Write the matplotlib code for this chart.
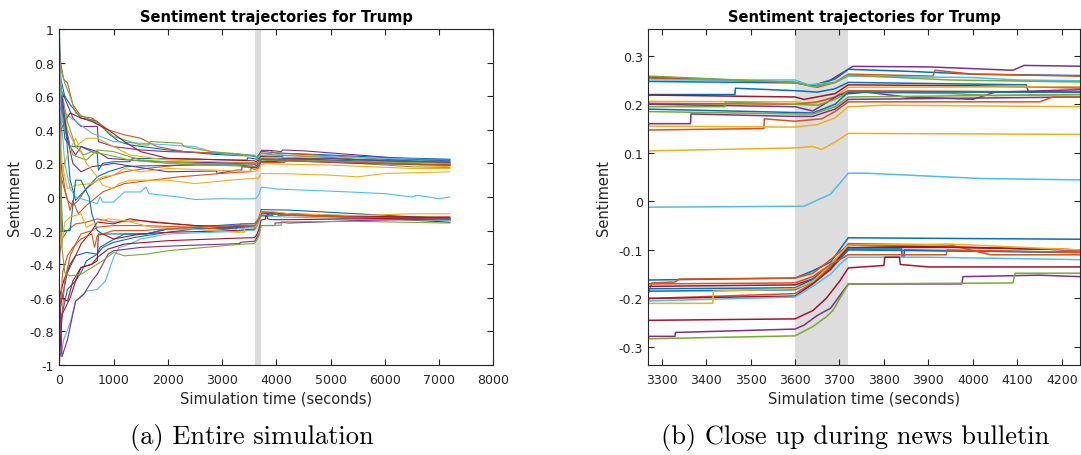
import matplotlib
matplotlib.use("Agg")
import matplotlib.pyplot as plt

plt.rcParams['axes.unicode_minus'] = False
plt.rcParams['font.family'] = ['DejaVu Sans']

# MATLAB default colour order
BLUE, ORANGE, YELLOW, PURPLE = '#0072BD', '#D95319', '#EDB120', '#7E2F8E'
GREEN, LBLUE, DRED = '#77AC30', '#4DBEEE', '#A2142F'

# Bulletin window (seconds)
bulletin = (3600, 3720)

# ---- Trajectories: (time, sentiment) ----
p01 = [(0,0.65),(60,0.62),(150,0.55),(250,0.47),(400,0.42),(700,0.42),(720,0.33),(1000,0.30),(1500,0.28),(2000,0.27),(2600,0.265),(3270,0.256),(3600,0.245),(3640,0.238),(3680,0.25),(3730,0.278),(3900,0.277),(4090,0.27),(4115,0.28),(4500,0.275),(5500,0.25),(6500,0.225),(7200,0.215)]
p02 = [(0,1.0),(30,0.7),(100,0.6),(200,0.55),(400,0.47),(600,0.46),(700,0.45),(900,0.38),(1100,0.33),(1300,0.31),(2000,0.28),(2800,0.255),(3270,0.247),(3600,0.244),(3640,0.238),(3690,0.252),(3720,0.272),(3850,0.268),(4000,0.262),(5000,0.25),(6000,0.235),(7200,0.225)]
p03 = [(0,0.85),(80,0.70),(150,0.68),(250,0.55),(400,0.48),(600,0.47),(900,0.40),(1200,0.37),(1500,0.35),(1800,0.30),(2300,0.27),(3270,0.254),(3600,0.245),(3650,0.235),(3690,0.245),(3720,0.262),(3910,0.258),(3915,0.27),(4000,0.262),(5000,0.245),(6000,0.225),(7200,0.20)]
p04 = [(0,0.38),(100,0.50),(300,0.45),(600,0.38),(1000,0.33),(1500,0.32),(2000,0.31),(2500,0.30),(2800,0.27),(3270,0.25),(3600,0.25),(3630,0.24),(3690,0.245),(3720,0.258),(4000,0.255),(4100,0.25),(5000,0.24),(6000,0.23),(7200,0.22)]
p05 = [(0,0.80),(100,0.68),(200,0.60),(300,0.50),(500,0.47),(700,0.44),(1000,0.36),(1500,0.31),(1650,0.31),(1680,0.33),(2250,0.32),(2300,0.30),(2800,0.27),(3270,0.258),(3600,0.245),(3640,0.236),(3690,0.245),(3720,0.26),(3950,0.25),(5000,0.235),(6000,0.215),(7200,0.20)]
p06 = [(0,0.60),(50,0.55),(100,0.35),(200,0.30),(400,0.30),(600,0.27),(700,0.26),(720,0.16),(800,0.20),(1000,0.21),(1300,0.21),(1350,0.23),(2500,0.225),(3270,0.22),(3465,0.22),(3466,0.233),(3600,0.228),(3650,0.225),(3690,0.232),(3720,0.245),(4120,0.24),(4125,0.225),(5000,0.225),(6000,0.22),(7200,0.22)]
p07 = [(0,-0.30),(30,0.40),(100,0.45),(200,0.50),(400,0.47),(600,0.45),(900,0.40),(1200,0.33),(1500,0.27),(2000,0.23),(3270,0.219),(3600,0.215),(3620,0.21),(3690,0.222),(3720,0.24),(4000,0.238),(5000,0.22),(6000,0.20),(7200,0.19)]
p08 = [(0,0.80),(50,0.60),(150,0.40),(300,0.30),(500,0.35),(700,0.35),(1000,0.30),(1300,0.25),(2000,0.22),(3270,0.206),(3600,0.205),(3640,0.20),(3690,0.215),(3720,0.235),(4240,0.236),(5000,0.225),(6000,0.20),(7200,0.18)]
p09 = [(0,0.40),(50,0.10),(150,-0.02),(250,-0.05),(350,-0.02),(500,0.05),(700,0.10),(900,0.12),(1200,0.15),(1600,0.17),(2200,0.19),(3270,0.202),(3600,0.20),(3650,0.205),(3690,0.215),(3720,0.228),(4240,0.225),(5500,0.21),(7200,0.19)]
p10 = [(0,0.55),(100,0.45),(200,0.30),(300,0.25),(400,0.30),(700,0.27),(900,0.23),(1300,0.22),(1800,0.21),(2800,0.205),(3270,0.20),(3600,0.195),(3640,0.186),(3700,0.22),(3760,0.225),(3850,0.215),(3950,0.212),(4000,0.21),(4050,0.225),(4240,0.23),(5000,0.23),(6000,0.215),(7200,0.205)]
p11 = [(0,0.65),(100,0.40),(250,0.25),(500,0.22),(700,0.28),(1000,0.27),(1500,0.22),(2500,0.20),(3270,0.195),(3442,0.195),(3443,0.205),(3600,0.20),(3650,0.198),(3690,0.21),(3720,0.225),(3950,0.222),(4050,0.218),(4240,0.22),(5500,0.20),(6500,0.18),(7200,0.175)]
p12 = [(0,0.70),(50,0.55),(120,0.40),(200,0.10),(300,-0.02),(500,0.05),(700,0.12),(900,0.15),(1200,0.18),(1500,0.185),(2500,0.19),(3270,0.19),(3600,0.183),(3640,0.182),(3690,0.20),(3720,0.225),(4240,0.225),(5500,0.215),(7200,0.21)]
p13 = [(0,0.75),(60,0.60),(150,0.45),(300,0.30),(450,0.25),(600,0.27),(900,0.25),(1300,0.22),(2000,0.20),(3270,0.185),(3600,0.18),(3640,0.18),(3690,0.195),(3720,0.215),(4240,0.22),(5500,0.21),(7200,0.20)]
p14 = [(0,0.30),(50,0.60),(150,0.35),(250,0.20),(400,0.15),(600,0.18),(800,0.19),(1000,0.20),(1400,0.18),(2000,0.15),(2900,0.155),(2905,0.14),(3270,0.16),(3365,0.16),(3366,0.18),(3600,0.175),(3640,0.175),(3690,0.19),(3720,0.21),(4240,0.215),(5500,0.20),(7200,0.19)]
p15 = [(0,-0.50),(40,0.20),(100,0.05),(200,-0.08),(250,-0.02),(350,-0.10),(500,-0.05),(800,0.03),(1200,0.08),(1700,0.10),(2200,0.12),(3270,0.147),(3530,0.15),(3531,0.17),(3600,0.165),(3660,0.17),(3690,0.185),(3720,0.205),(4150,0.205),(4180,0.215),(5500,0.205),(7200,0.19)]
p16 = [(0,0.45),(50,0.20),(150,0.05),(300,0.07),(600,0.08),(800,0.12),(1000,0.13),(1200,0.17),(1500,0.15),(2000,0.17),(3270,0.155),(3600,0.153),(3650,0.158),(3690,0.172),(3720,0.195),(3800,0.198),(5000,0.19),(6500,0.17),(7200,0.17)]
p17 = [(0,0.05),(50,0.15),(150,0.25),(300,0.35),(500,0.20),(700,0.12),(800,0.07),(1000,0.05),(1100,0.08),(1300,0.10),(2000,0.10),(2500,0.08),(3270,0.104),(3600,0.11),(3640,0.113),(3660,0.107),(3690,0.122),(3720,0.14),(4240,0.138),(5000,0.13),(5500,0.12),(6000,0.14),(7200,0.15)]
p18 = [(0,0.95),(30,0.50),(100,0.20),(200,0.05),(300,0.0),(500,-0.02),(700,-0.04),(750,0.0),(800,-0.03),(1000,-0.03),(1100,0.0),(1200,0.03),(1500,0.03),(1600,0.06),(1650,0.02),(2200,0.0),(2500,-0.015),(3000,-0.01),(3270,-0.012),(3620,-0.01),(3680,0.015),(3720,0.058),(3760,0.058),(4020,0.047),(5000,0.035),(6000,0.02),(6500,0.0),(6600,0.01),(7000,-0.01),(7200,0.0)]

n01 = [(0,-0.70),(50,-0.60),(150,-0.45),(300,-0.35),(500,-0.33),(700,-0.34),(750,-0.30),(900,-0.27),(1200,-0.22),(1600,-0.22),(2000,-0.19),(3270,-0.162),(3600,-0.158),(3640,-0.143),(3680,-0.125),(3720,-0.075),(4240,-0.078),(5500,-0.10),(7200,-0.13)]
n02 = [(0,-0.35),(50,-0.25),(150,-0.20),(300,-0.16),(500,-0.15),(700,-0.13),(1000,-0.15),(1500,-0.14),(2500,-0.17),(3270,-0.19),(3278,-0.168),(3330,-0.166),(3340,-0.16),(3600,-0.158),(3640,-0.148),(3680,-0.12),(3720,-0.09),(4000,-0.095),(4240,-0.10),(5500,-0.12),(7200,-0.14)]
n03 = [(0,-0.60),(80,-0.50),(200,-0.40),(300,-0.35),(400,-0.28),(600,-0.20),(700,-0.15),(1000,-0.16),(1300,-0.13),(1700,-0.15),(2500,-0.17),(3270,-0.175),(3600,-0.172),(3640,-0.16),(3680,-0.13),(3720,-0.095),(4000,-0.095),(4240,-0.10),(5500,-0.12),(7200,-0.15)]
n04 = [(0,-0.85),(50,-0.70),(150,-0.55),(300,-0.50),(400,-0.45),(500,-0.38),(600,-0.36),(700,-0.34),(800,-0.30),(1000,-0.27),(1400,-0.24),(2000,-0.21),(2500,-0.19),(3270,-0.18),(3600,-0.178),(3640,-0.16),(3680,-0.135),(3720,-0.098),(3840,-0.098),(3841,-0.115),(3845,-0.115),(3846,-0.10),(4240,-0.105),(5500,-0.12),(7200,-0.13)]
n05 = [(0,0.30),(60,-0.20),(200,-0.20),(300,0.10),(400,0.10),(550,0.0),(600,-0.10),(700,-0.20),(800,-0.22),(1100,-0.22),(1600,-0.22),(2000,-0.19),(2600,-0.19),(3270,-0.185),(3600,-0.182),(3640,-0.165),(3680,-0.14),(3720,-0.10),(4240,-0.105),(5500,-0.12),(7200,-0.13)]
n06 = [(0,-0.95),(50,-0.70),(100,-0.50),(200,-0.35),(300,-0.28),(400,-0.22),(600,-0.20),(700,-0.18),(1000,-0.17),(1500,-0.17),(2500,-0.18),(3270,-0.20),(3600,-0.19),(3640,-0.168),(3680,-0.135),(3720,-0.087),(3950,-0.09),(4040,-0.11),(4240,-0.11),(5500,-0.125),(7200,-0.14)]
n07 = [(0,-0.65),(50,-0.60),(150,-0.62),(250,-0.50),(400,-0.42),(600,-0.40),(700,-0.38),(720,-0.22),(800,-0.22),(1000,-0.25),(1500,-0.22),(2000,-0.21),(3270,-0.20),(3600,-0.195),(3640,-0.17),(3680,-0.14),(3720,-0.09),(4240,-0.10),(5500,-0.115),(7200,-0.12)]
n08 = [(0,-0.90),(30,-0.95),(80,-0.85),(200,-0.75),(300,-0.62),(500,-0.56),(700,-0.55),(850,-0.50),(1000,-0.36),(1100,-0.30),(1300,-0.28),(1500,-0.25),(2000,-0.22),(3270,-0.205),(3600,-0.197),(3640,-0.175),(3680,-0.15),(3700,-0.13),(3720,-0.115),(3900,-0.115),(4240,-0.12),(5500,-0.13),(7200,-0.14)]
n09 = [(0,0.60),(40,-0.30),(100,-0.15),(200,-0.12),(400,-0.10),(500,-0.18),(700,-0.15),(900,-0.13),(1200,-0.14),(1700,-0.18),(2400,-0.19),(3270,-0.21),(3415,-0.21),(3416,-0.185),(3600,-0.18),(3640,-0.165),(3680,-0.13),(3720,-0.09),(3950,-0.088),(4240,-0.10),(5500,-0.11),(6500,-0.10),(7200,-0.10)]
n10 = [(0,-0.80),(60,-0.45),(150,-0.35),(250,-0.30),(400,-0.25),(600,-0.22),(650,-0.30),(700,-0.23),(1000,-0.20),(1500,-0.20),(2500,-0.18),(3270,-0.17),(3600,-0.168),(3640,-0.155),(3680,-0.13),(3720,-0.11),(3940,-0.11),(3942,-0.10),(4240,-0.105),(5500,-0.12),(7200,-0.13)]
n11 = [(0,-1.0),(50,-0.70),(200,-0.60),(300,-0.50),(400,-0.42),(600,-0.40),(700,-0.36),(900,-0.31),(1200,-0.28),(2000,-0.26),(3270,-0.245),(3600,-0.242),(3640,-0.225),(3670,-0.20),(3700,-0.165),(3720,-0.137),(3800,-0.132),(3802,-0.115),(3835,-0.115),(3837,-0.13),(3900,-0.135),(4240,-0.135),(5500,-0.13),(7200,-0.12)]
n12 = [(0,-0.50),(50,-0.95),(150,-0.85),(300,-0.62),(450,-0.58),(600,-0.50),(700,-0.46),(800,-0.40),(900,-0.34),(1000,-0.32),(1500,-0.30),(2200,-0.29),(3270,-0.278),(3330,-0.278),(3331,-0.27),(3600,-0.263),(3620,-0.255),(3650,-0.235),(3680,-0.22),(3720,-0.17),(3975,-0.17),(3978,-0.155),(4150,-0.152),(4240,-0.155),(5500,-0.14),(7200,-0.13)]
n13 = [(0,0.50),(50,-0.30),(100,-0.45),(200,-0.47),(400,-0.46),(600,-0.42),(700,-0.40),(800,-0.38),(1000,-0.33),(1200,-0.35),(1600,-0.34),(2000,-0.32),(3270,-0.283),(3600,-0.277),(3640,-0.258),(3670,-0.238),(3685,-0.225),(3720,-0.17),(4090,-0.168),(4095,-0.148),(4240,-0.148),(5500,-0.145),(7200,-0.155)]

trajectories = [p01, p02, p03, p04, p05, p06, p07, p08, p09, p10, p11, p12, p13, p14, p15, p16, p17, p18,
                n01, n02, n03, n04, n05, n06, n07, n08, n09, n10, n11, n12, n13]
line_colors = [PURPLE, BLUE, ORANGE, LBLUE, GREEN, BLUE, DRED, YELLOW, ORANGE, PURPLE, GREEN, BLUE, GREEN, PURPLE, ORANGE, YELLOW, YELLOW, LBLUE,
               BLUE, ORANGE, DRED, BLUE, BLUE, ORANGE, DRED, LBLUE, YELLOW, ORANGE, DRED, PURPLE, GREEN]

left_xticks = [0, 1000, 2000, 3000, 4000, 5000, 6000, 7000, 8000]
left_yticks = [-1, -0.8, -0.6, -0.4, -0.2, 0, 0.2, 0.4, 0.6, 0.8, 1]
right_xticks = [3300, 3400, 3500, 3600, 3700, 3800, 3900, 4000, 4100, 4200]
right_yticks = [-0.3, -0.2, -0.1, 0, 0.1, 0.2, 0.3]

title_text = 'Sentiment trajectories for Trump'
xlabel_text = 'Simulation time (seconds)'
ylabel_text = 'Sentiment'
captions = ['(a) Entire simulation', '(b) Close up during news bulletin']

W, H = 1081, 456
fig = plt.figure(figsize=(W/100, H/100), dpi=100)

def fmt(v):
    return '%g' % round(v, 3)

GRAY = '#262626'

def style(ax, xt, yt, xlim, ylim, lw):
    ax.axvspan(*bulletin, color='#dddddd', lw=0, zorder=0)
    for tr, c in zip(trajectories, line_colors):
        t = [p[0] for p in tr]
        v = [p[1] for p in tr]
        ax.plot(t, v, color=c, lw=lw, zorder=2)
    ax.set_xlim(*xlim)
    ax.set_ylim(*ylim)
    ax.set_xticks(xt)
    ax.set_xticklabels([fmt(x) for x in xt])
    ax.set_yticks(yt)
    ax.set_yticklabels([fmt(y) for y in yt])
    ax.tick_params(direction='in', top=True, right=True, length=4, width=0.8,
                   labelsize=9, colors=GRAY, labelcolor=GRAY)
    ax.tick_params(axis='y', pad=4)
    ax.tick_params(axis='x', pad=6)
    for s in ax.spines.values():
        s.set_color(GRAY)
        s.set_linewidth(0.8)
    ax.set_title(title_text, fontsize=10.5, fontweight='bold', pad=6)
    ax.set_xlabel(xlabel_text, fontsize=10.5, color=GRAY, labelpad=3)
    ax.set_ylabel(ylabel_text, fontsize=10.5, color=GRAY, labelpad=5)

ax1 = fig.add_axes([59.3/W, 1-366/H, (493.3-59.3)/W, 336/H])
style(ax1, left_xticks, left_yticks, (0, 8000), (-1, 1), 0.8)

ax2 = fig.add_axes([648.3/W, 1-366/H, (1080-648.3)/W, 336/H])
style(ax2, right_xticks, right_yticks, (3270, 4241), (-0.337, 0.355), 1.1)

fig.text(252/W, 1-438/H, captions[0], ha='center', va='center', fontsize=19, family='cmr10')
fig.text(855/W, 1-438/H, captions[1], ha='center', va='center', fontsize=19, family='cmr10')

fig.savefig('out.png', dpi=100)
